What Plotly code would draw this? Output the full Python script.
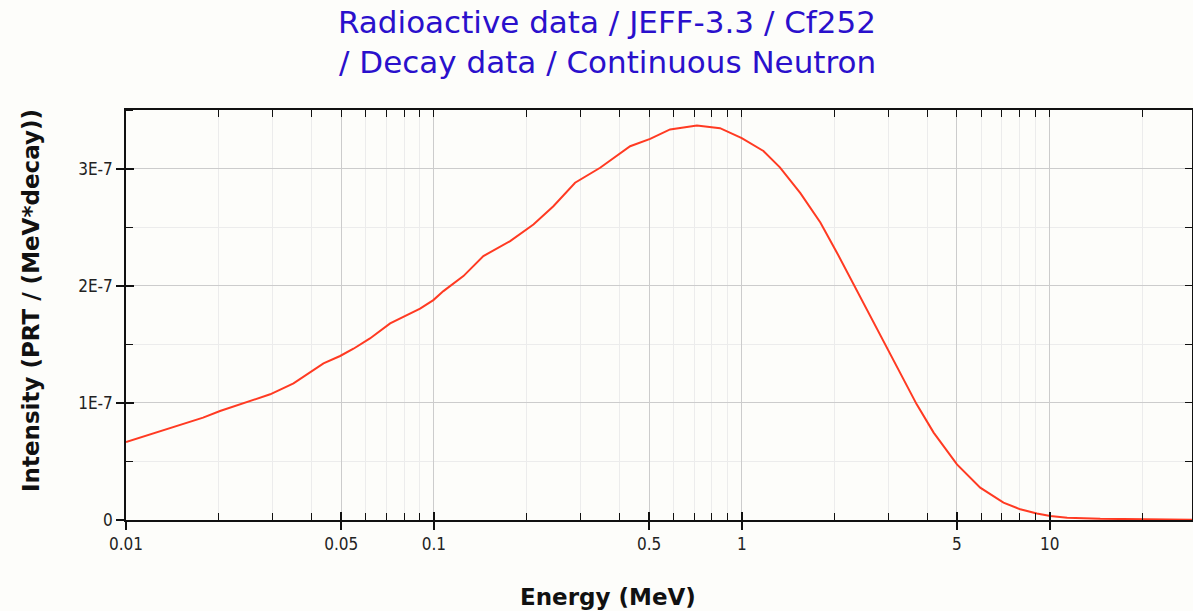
import plotly.graph_objects as go
import numpy as np

# Data (Energy in MeV, intensity in PRT/(MeV*decay))
energy = [0.01, 0.0123, 0.015, 0.0178, 0.0202, 0.0247, 0.0294, 0.035, 0.0387, 0.0438,
          0.0496, 0.0548, 0.062, 0.0721, 0.0902, 0.0996, 0.1074, 0.1247, 0.1448, 0.1769,
          0.2105, 0.2444, 0.2875, 0.3467, 0.434, 0.504, 0.585, 0.715, 0.85, 1.0,
          1.176, 1.33, 1.55, 1.80, 2.04, 2.31, 2.61, 2.96, 3.35, 3.70,
          4.20, 5.0, 5.95, 7.08, 8.03, 9.09, 10.05, 11.4, 14.6, 20.0, 29.0]
intensity_e7 = [0.666, 0.74, 0.814, 0.874, 0.93, 1.007, 1.073, 1.166, 1.243, 1.337,
                1.40, 1.462, 1.55, 1.678, 1.804, 1.877, 1.954, 2.082, 2.253, 2.381,
                2.523, 2.679, 2.879, 3.007, 3.191, 3.254, 3.334, 3.368, 3.345, 3.26,
                3.15, 3.01, 2.79, 2.54, 2.28, 2.01, 1.755, 1.47, 1.20, 0.987,
                0.746, 0.475, 0.276, 0.148, 0.091, 0.055, 0.034, 0.02, 0.01, 0.005, 0.003]
intensity = [v * 1e-7 for v in intensity_e7]

x_major = [0.01, 0.05, 0.1, 0.5, 1, 5, 10]
x_major_text = ["0.01", "0.05", "0.1", "0.5", "1", "5", "10"]
x_minor = [0.02, 0.03, 0.04, 0.06, 0.07, 0.08, 0.09,
           0.2, 0.3, 0.4, 0.6, 0.7, 0.8, 0.9,
           2, 3, 4, 6, 7, 8, 9, 20]
y_major = [0, 1e-7, 2e-7, 3e-7]
y_major_text = ["0", "1E-7", "2E-7", "3E-7"]
y_minor = [0.5e-7, 1.5e-7, 2.5e-7, 3.5e-7]

title_line1 = "Radioactive data / JEFF-3.3 / Cf252"
title_line2 = "/ Decay data / Continuous Neutron"
x_title = "Energy (MeV)"
y_title = "Intensity (PRT / (MeV*decay))"

W, H = 1193, 611
L, R, T, B = 126, 1, 110, 91
xr = [np.log10(0.01), np.log10(29.0)]
yr = [0, 3.5e-7]

BG = "#fdfdfa"
AX = "#111111"
TICKFONT = dict(family="DejaVu Sans Condensed, DejaVu Sans", size=17, color="#222222")
TITLEFONT = dict(family="DejaVu Sans", size=31, color="#2a10cc")
AXTITLEFONT = dict(family="DejaVu Sans", size=23, color="#111111", weight="bold")

fig = go.Figure()
fig.add_trace(go.Scatter(x=energy, y=intensity, mode="lines",
                         line=dict(color="#ff3a22", width=2),
                         showlegend=False, hoverinfo="x+y"))
# invisible copies so that the frame axes get drawn
for xa, ya in [("x2", "y2"), ("x3", "y3")]:
    fig.add_trace(go.Scatter(x=energy, y=intensity, mode="lines", xaxis=xa, yaxis=ya,
                             line=dict(color="rgba(0,0,0,0)", width=0),
                             showlegend=False, hoverinfo="skip"))

fig.update_layout(
    width=W, height=H,
    margin=dict(l=L, r=R, t=T, b=B),
    paper_bgcolor=BG, plot_bgcolor=BG,
    showlegend=False,
    xaxis=dict(
        type="log", range=xr, showline=True, linecolor=AX, linewidth=1.5,
        tickvals=x_major, ticktext=x_major_text, ticks="outside", ticklen=8,
        tickwidth=1.5, tickcolor=AX, tickfont=TICKFONT,
        showgrid=True, gridcolor="#cccccc", gridwidth=1, zeroline=False,
        minor=dict(tickvals=x_minor, ticks="inside", ticklen=7, tickwidth=1.2,
                   tickcolor=AX, showgrid=True, gridcolor="#ececec", gridwidth=1),
    ),
    yaxis=dict(
        range=yr, showline=True, linecolor=AX, linewidth=1.5,
        tickvals=y_major, ticktext=y_major_text, ticks="outside", ticklen=8,
        tickwidth=1.5, tickcolor=AX, tickfont=TICKFONT,
        showgrid=True, gridcolor="#cccccc", gridwidth=1, zeroline=False,
        minor=dict(tickvals=y_minor, ticks="inside", ticklen=7, tickwidth=1.2,
                   tickcolor=AX, showgrid=True, gridcolor="#ececec", gridwidth=1),
    ),
    xaxis2=dict(
        type="log", range=xr, overlaying="x", side="top", anchor="y2",
        showline=True, linecolor=AX, linewidth=1.5,
        tickvals=x_major + x_minor, ticks="inside", ticklen=7, tickwidth=1.2,
        tickcolor=AX, showticklabels=False, showgrid=False, zeroline=False,
    ),
    yaxis2=dict(
        range=yr, overlaying="y", side="right", anchor="x2",
        showline=True, linecolor=AX, linewidth=1.5,
        tickvals=y_major + y_minor, ticks="inside", ticklen=7, tickwidth=1.2,
        tickcolor=AX, showticklabels=False, showgrid=False, zeroline=False,
    ),
    xaxis3=dict(
        type="log", range=xr, overlaying="x", side="bottom", anchor="y3",
        showline=False, tickvals=x_major, ticks="inside", ticklen=8, tickwidth=1.5,
        tickcolor=AX, showticklabels=False, showgrid=False, zeroline=False,
    ),
    yaxis3=dict(
        range=yr, overlaying="y", side="left", anchor="x3",
        showline=False, tickvals=y_major, ticks="inside", ticklen=8, tickwidth=1.5,
        tickcolor=AX, showticklabels=False, showgrid=False, zeroline=False,
    ),
)

def px_to_paper_x(px):
    return (px - L) / (W - L - R)

def py_to_paper_y(py):
    return (H - B - py) / (H - T - B)

fig.add_annotation(text=title_line1, x=px_to_paper_x(607), y=py_to_paper_y(22),
                   xref="paper", yref="paper", showarrow=False, font=TITLEFONT,
                   xanchor="center", yanchor="middle")
fig.add_annotation(text=title_line2, x=px_to_paper_x(607), y=py_to_paper_y(62),
                   xref="paper", yref="paper", showarrow=False, font=TITLEFONT,
                   xanchor="center", yanchor="middle")
fig.add_annotation(text=x_title, x=px_to_paper_x(608), y=py_to_paper_y(597),
                   xref="paper", yref="paper", showarrow=False, font=AXTITLEFONT,
                   xanchor="center", yanchor="middle")
fig.add_annotation(text=y_title, x=px_to_paper_x(31), y=py_to_paper_y(301),
                   xref="paper", yref="paper", showarrow=False, font=AXTITLEFONT,
                   textangle=-90, xanchor="center", yanchor="middle")

fig.write_html("out.html")
